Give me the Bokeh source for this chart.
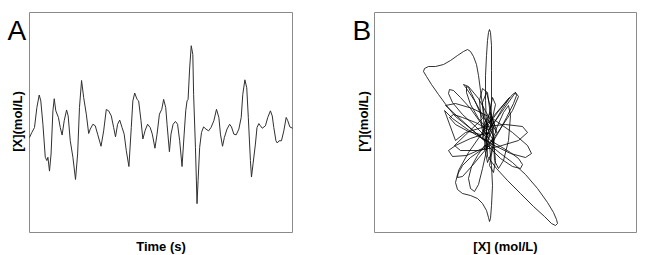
import math
from bokeh.plotting import figure
from bokeh.layouts import row
from bokeh.models import Range1d
from bokeh.core.properties import value
from bokeh.embed import file_html
from bokeh.resources import INLINE

# Panel A: time series of [X]
time_s = [0, 0.9, 1.9, 2.8, 3.7, 4.3, 5.1, 6.0, 6.6, 7.0,
          7.6, 8.2, 8.9, 9.4, 10.0, 11.0, 11.7, 12.4, 13.2, 14.1,
          14.7, 15.5, 16.5, 17.5, 18.3, 19.0, 19.8, 20.6, 21.6, 22.5,
          23.1, 24.1, 25.0, 25.9, 27.2, 28.2, 29.2, 30.1, 31.1, 32.0,
          32.7, 33.5, 34.3, 35.2, 36.0, 36.8, 37.8, 38.7, 39.3, 40.0,
          40.9, 41.5, 42.4, 43.1, 44.0, 44.9, 45.9, 46.7, 47.7, 48.5,
          49.4, 50.3, 51.0, 51.8, 52.3, 53.2, 53.8, 54.6, 55.5, 56.3,
          57.1, 58.0, 58.8, 59.4, 59.9, 60.3, 60.9, 61.5, 62.1, 62.4,
          63.1, 63.7, 64.1, 64.7, 65.4, 66.2, 67.1, 68.1, 69.0, 70.1,
          71.1, 72.0, 72.6, 73.4, 74.1, 75.1, 76.1, 76.8, 77.7, 78.6,
          79.6, 80.5, 81.1, 81.9, 82.6, 83.2, 84.0, 84.4, 85.0, 85.9,
          86.5, 87.2, 87.8, 88.5, 89.7, 90.6, 91.6, 92.3, 92.9, 93.7,
          94.2, 94.9, 95.8, 96.7, 97.6, 98.2, 99.0, 100]
x_conc = [43.2, 45.5, 47.7, 56.8, 62.5, 59.8, 49.2, 34.2, 32.7, 34.2,
          27.9, 35.7, 55.3, 60.8, 55.3, 52.3, 47.7, 44.3, 50.8, 55.7,
          53.0, 41.7, 34.2, 24.1, 35.7, 56.8, 69.1, 61.3, 53.8, 45.0,
          47.0, 49.2, 48.5, 44.7, 39.2, 46.2, 55.9, 55.3, 53.0, 47.7,
          43.5, 49.2, 51.1, 47.7, 44.7, 37.2, 30.0, 47.7, 59.8, 63.4,
          60.5, 59.8, 50.8, 42.5, 46.5, 49.2, 47.7, 44.7, 38.3, 44.7,
          53.8, 56.0, 60.5, 56.8, 49.2, 36.7, 44.7, 49.2, 50.5, 49.2,
          41.7, 30.0, 44.7, 55.3, 59.8, 60.5, 74.8, 84.9, 80.9, 62.8,
          38.7, 13.1, 23.6, 38.7, 45.5, 48.0, 47.0, 46.2, 47.7, 50.8,
          56.0, 52.3, 44.7, 39.2, 43.2, 47.0, 49.2, 48.0, 44.7, 44.4,
          47.0, 52.3, 62.8, 69.4, 65.8, 52.3, 32.7, 25.2, 31.2, 40.2,
          47.7, 49.5, 48.5, 47.4, 48.5, 52.3, 55.3, 53.0, 47.7, 41.7,
          40.7, 41.7, 41.7, 46.2, 52.3, 50.8, 48.0, 47.4]

# Panel B: phase portrait [Y] vs [X] (one line per loop of the trajectory)
phase_x = [114, 106, 96, 86, 79, 75, 74, 78, 88, 101, 111,
           116, 126, 138, 151, 163, 173, 179, 182, 183, 181, 177, 170, 159, 146, 133, 122, 113,
           112, 111, 111, 112, 113, 114, 115, 116, 117, 117, 117, 116,
           111, 101, 91, 81, 72, 64, 57, 52, 49, 50, 54, 61, 69, 76, 83, 89, 93, 96, 99, 102, 104, 106, 108, 111, 114,
           121, 128, 134, 138, 141, 142, 139, 132, 124, 116,
           106, 96, 88, 83, 81, 83, 88, 96, 103, 108, 112, 114, 115, 116, 117, 118, 117, 115,
           71, 81, 98, 118, 138, 153, 157, 151, 136, 116, 96, 78, 70,
           81, 91, 111, 131, 148, 153, 144, 124, 104, 86, 80,
           108, 102, 97, 94, 92, 92, 96, 104, 114,
           141, 144, 138, 126, 112, 98, 88, 83, 84, 94, 108, 123, 135,
           111, 118, 122, 116, 108, 110, 116, 120, 114, 109, 113, 118, 112,
           116, 126, 136, 144, 148, 146, 138, 126, 114,
           110, 103, 97, 94, 96, 100, 104, 108, 112,
           112, 101, 88, 79, 75, 81, 94, 106, 114,
           110, 108, 112, 116, 119, 117, 113, 110, 113, 118, 121, 117,
           112, 107, 105, 108, 113, 116, 119, 121, 119, 115,
           120, 111, 100, 92, 89, 94, 104, 114, 122,
           121, 129, 134, 136, 134, 129, 124, 120, 119,
           114, 96, 81, 74, 78, 92, 108, 118]
phase_y = [97, 110, 124, 135, 142, 143, 139, 130, 118, 106, 96,
           87, 79, 70, 58, 44, 30, 20, 13, 9, 7, 9, 16, 26, 39, 52, 64, 76,
           107, 132, 157, 177, 192, 200, 203, 200, 187, 162, 132, 107,
           92, 100, 108, 116, 127, 138, 148, 156, 161, 164, 166, 166, 168, 172, 177, 181, 183, 181, 176, 168, 157, 142, 127, 112, 102,
           112, 124, 133, 138, 140, 137, 129, 115, 100, 87,
           82, 75, 67, 58, 50, 43, 39, 37, 34, 29, 22, 15, 11, 14, 27, 47, 67, 87,
           127, 129, 124, 114, 100, 87, 79, 75, 79, 89, 101, 114, 122,
           92, 100, 106, 108, 106, 100, 92, 86, 82, 82, 87,
           114, 128, 139, 145, 146, 140, 128, 114, 102,
           140, 136, 122, 104, 84, 67, 56, 55, 62, 80, 100, 120, 135,
           107, 114, 102, 90, 94, 110, 120, 107, 94, 102, 114, 104, 97,
           92, 86, 80, 74, 68, 64, 66, 74, 86,
           87, 77, 66, 54, 44, 41, 48, 64, 82,
           104, 110, 115, 118, 115, 108, 101, 98, 99,
           100, 130, 140, 125, 100, 80, 70, 85, 110, 135, 128, 110,
           82, 107, 132, 144, 140, 117, 92, 72, 60, 67,
           94, 112, 132, 144, 148, 146, 134, 116, 100,
           102, 120, 127, 117, 92, 72, 64, 72, 92,
           100, 94, 87, 82, 76, 77, 84, 92]

panel_letters = ["A", "B"]
x_labels = ["Time (s)", "[X] (mol/L)"]
y_labels = ["[X](mol/L)", "[Y](mol/L)"]

FONT = "Liberation Sans"
H = 255


def make_panel(W, fl, fr, ft, fb, x0, x1, y0, y1):
    """Figure whose frame fills the canvas; the data box maps to the given pixel box."""
    sx = (x1 - x0) / (fr - fl)
    sy = (y1 - y0) / (fb - ft)
    xr = Range1d(x0 - fl * sx, x1 + (W - fr) * sx)
    yr = Range1d(y0 - (H - fb) * sy, y1 + ft * sy)
    p = figure(width=W, height=H, x_range=xr, y_range=yr,
               output_backend="svg", toolbar_location=None,
               x_axis_type=None, y_axis_type=None, min_border=0)
    p.outline_line_color = None
    p.background_fill_color = "white"
    p.border_fill_color = "white"
    p.quad(left=[x0], right=[x1], bottom=[y0], top=[y1],
           fill_color=None, line_color="#8a8a8a", line_width=1)

    def px(x):
        return xr.start + x * sx

    def py(y):
        return yr.end - y * sy
    return p, px, py


def add_texts(p, px, py, letter, letter_x, xlab, xlab_cx, ylab, ylab_cx):
    p.text(x=[px(letter_x)], y=[py(29.5)], text=[letter],
           text_font=value(FONT), text_font_size="28px",
           text_align="left", text_baseline="alphabetic", text_color="black")
    p.text(x=[px(xlab_cx)], y=[py(245.5)], text=[xlab],
           text_font=value(FONT), text_font_size="13px", text_font_style="bold",
           text_align="center", text_baseline="alphabetic", text_color="black")
    p.text(x=[px(ylab_cx)], y=[py(121)], text=[ylab], angle=math.pi / 2,
           text_font=value(FONT), text_font_size="13px", text_font_style="bold",
           text_align="center", text_baseline="middle", text_color="black")


pA, pxA, pyA = make_panel(320, 29, 292, 12, 232, 0, 100, 0, 100)
pA.line(time_s, x_conc, line_color="#303030", line_width=1)
add_texts(pA, pxA, pyA, panel_letters[0], 7, x_labels[0], 160.5, y_labels[0], 17)

pB, pxB, pyB = make_panel(325, 54, 316, 12, 232, 0, 262, 0, 220)
pB.line(phase_x, phase_y, line_color="black", line_width=0.8)
add_texts(pB, pxB, pyB, panel_letters[1], 32, x_labels[1], 185, y_labels[1], 43)

layout = row(pA, pB)
open("out.html", "w").write(file_html(layout, INLINE))
